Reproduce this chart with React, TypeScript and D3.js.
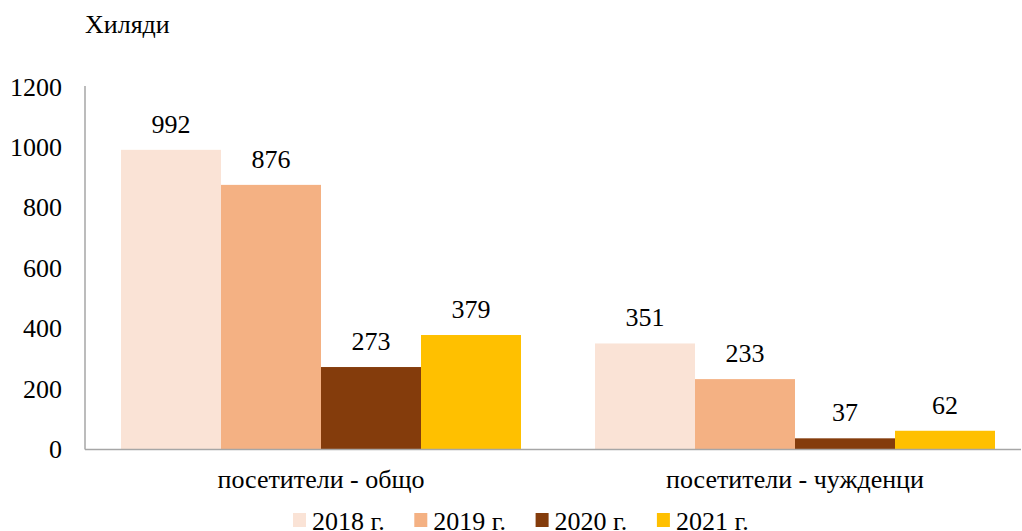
import React from 'react';
import * as d3 from 'd3';

const categories = ['посетители - общо', 'посетители - чужденци'];
const years = ['2018 г.', '2019 г.', '2020 г.', '2021 г.'];
const values2018 = [992, 351];
const values2019 = [876, 233];
const values2020 = [273, 37];
const values2021 = [379, 62];
const yTicks = [0, 200, 400, 600, 800, 1000, 1200];

const colors = ['#FAE3D6', '#F4B183', '#843C0C', '#FFC000'];
const font = 'Liberation Serif, DejaVu Serif, serif';

const App = () => {
  const width = 1022;
  const height = 531;
  const margin = { top: 87, left: 85, bottom: 81.5 };
  const innerHeight = height - margin.top - margin.bottom;
  const axisWidth = 936;

  const series = [values2018, values2019, values2020, values2021];

  const yScale = d3.scaleLinear().domain([0, 1200]).range([innerHeight, 0]);
  const xScale = d3.scaleBand().domain(categories).range([-1, 947]);
  const xInner = d3.scaleBand().domain(years).range([0, 400]);
  const groupOffset = (xScale.bandwidth() - 400) / 2;

  const txt = { fontFamily: font, fontSize: 26, fill: '#000' };

  return (
    <svg width={width} height={height} style={{ position: 'absolute', left: 0, top: 0 }}>
      <text x={85} y={33} style={txt}>
        Хиляди
      </text>
      <g transform={`translate(${margin.left}, ${margin.top})`}>
        {yTicks.map(t => (
          <text key={t} x={-23} y={yScale(t) + 8.5} textAnchor="end" style={txt}>
            {t}
          </text>
        ))}
        {categories.map((c, ci) =>
          series.map((vals, si) => {
            const x = (xScale(c) || 0) + groupOffset + (xInner(years[si]) || 0);
            const y = yScale(vals[ci]);
            return (
              <g key={`${ci}-${si}`}>
                <rect
                  x={x}
                  y={y}
                  width={xInner.bandwidth()}
                  height={innerHeight - y}
                  fill={colors[si]}
                />
                <text x={x + xInner.bandwidth() / 2} y={y - 17} textAnchor="middle" style={txt}>
                  {vals[ci]}
                </text>
              </g>
            );
          })
        )}
        <line x1={0} x2={0} y1={-1} y2={innerHeight} stroke="#A6A6A6" strokeWidth={1.5} />
        <line x1={0} x2={axisWidth} y1={innerHeight} y2={innerHeight} stroke="#A6A6A6" strokeWidth={1.5} />
        {categories.map(c => (
          <text
            key={c}
            x={(xScale(c) || 0) + xScale.bandwidth() / 2}
            y={innerHeight + 38.5}
            textAnchor="middle"
            style={txt}
          >
            {c}
          </text>
        ))}
      </g>
      {years.map((yr, i) => (
        <g key={yr} transform={`translate(${293 + i * 121.3}, 513)`}>
          <rect x={0} y={0} width={13} height={14} fill={colors[i]} />
          <text x={19} y={17} style={txt}>
            {yr}
          </text>
        </g>
      ))}
    </svg>
  );
};

export default App;
